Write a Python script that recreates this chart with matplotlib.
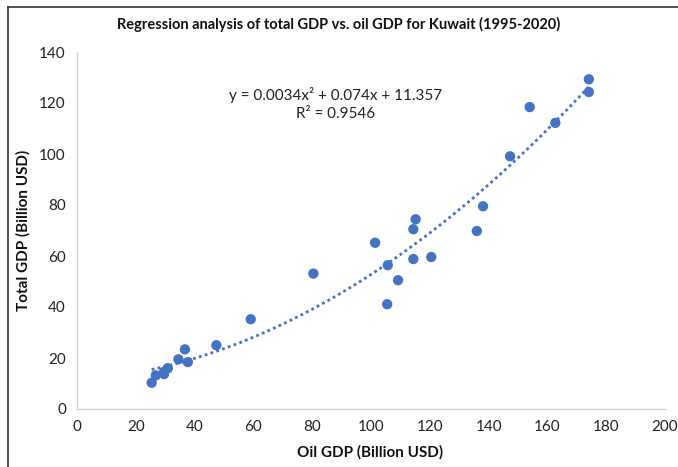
import numpy as np
import matplotlib
matplotlib.use("Agg")
import matplotlib.pyplot as plt
from matplotlib.lines import Line2D

plt.rcParams['font.family'] = ['Lato', 'DejaVu Sans']

oil_gdp = [25.4, 26.8, 29.6, 29.6, 30.9, 34.5, 36.7, 37.7, 47.4, 59.1,
           80.4, 101.4, 105.7, 105.5, 109.2, 114.4, 115.2, 114.4, 120.5, 136.0,
           138.1, 147.3, 154.0, 162.7, 174.1, 174.1]
total_gdp = [10.3, 13.2, 13.7, 14.6, 16.0, 19.5, 23.4, 18.4, 25.0, 35.2,
             53.1, 65.2, 56.4, 41.1, 50.5, 70.5, 74.4, 58.8, 59.6, 69.8,
             79.5, 99.1, 118.4, 112.2, 129.3, 124.3]

x_ticks = [0, 20, 40, 60, 80, 100, 120, 140, 160, 180, 200]
y_ticks = [0, 20, 40, 60, 80, 100, 120, 140]

title = "Regression analysis of total GDP vs. oil GDP for Kuwait (1995-2020)"
x_label = "Oil GDP (Billion USD)"
y_label = "Total GDP (Billion USD)"
eq_text = "y = 0.0034x\u00b2 + 0.074x + 11.357\nR\u00b2 = 0.9546"

color = "#4472C4"

fig = plt.figure(figsize=(6.78, 4.67), dpi=100)
ax = fig.add_axes([77/678, 1-409/467, (665-77)/678, (409-52)/467])

x = np.array(oil_gdp)
y = np.array(total_gdp)
coef = np.polyfit(x, y, 2)
xs = np.linspace(x.min(), x.max(), 200)
ax.plot(xs, np.polyval(coef, xs), linestyle=(0, (1, 1.2)), color=color, lw=2.0, zorder=2)
ax.scatter(x, y, s=55, color=color, zorder=3, edgecolors='none')

ax.set_xlim(0, 200)
ax.set_ylim(0, 140)
ax.set_xticks(x_ticks)
ax.set_yticks(y_ticks)
ax.tick_params(length=0, labelsize=11, colors='#222222', pad=8)
for s in ['top', 'right']:
    ax.spines[s].set_visible(False)
for s in ['left', 'bottom']:
    ax.spines[s].set_color('#D0D0D0')
    ax.spines[s].set_linewidth(1.0)

ax.text(88, 119.5, eq_text, ha='center', va='center', fontsize=11, color='#222222',
        linespacing=1.35)

fig.text(0.5, 1-24/467, title, ha='center', va='center', fontsize=10.5,
         fontweight='bold', color='#111111')
fig.text(370/678, 1-452/467, x_label, ha='center', va='center', fontsize=11,
         fontweight='bold', color='#111111')
fig.text(23/678, 1-230/467, y_label, ha='center', va='center', fontsize=11,
         fontweight='bold', rotation=90, color='#111111')

# chart border (left and top visible)
fig.add_artist(Line2D([8/678, 8/678], [0, 1-7/467], transform=fig.transFigure,
                      color='#333333', lw=1.2))
fig.add_artist(Line2D([8/678, 1], [1-7/467, 1-7/467], transform=fig.transFigure,
                      color='#333333', lw=1.2))

fig.savefig("out.png", dpi=100)
